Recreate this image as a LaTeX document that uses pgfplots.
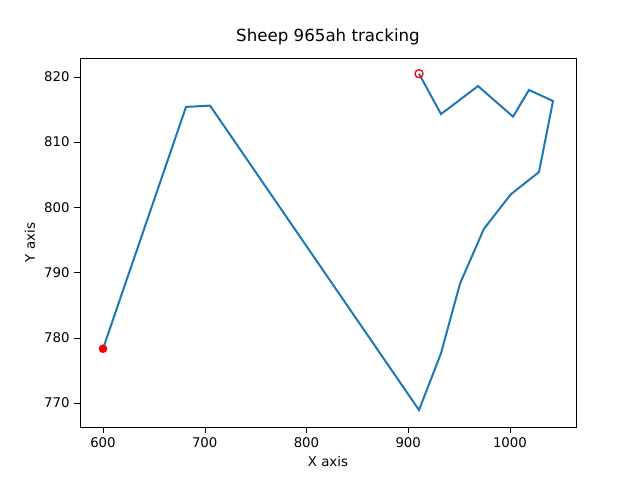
\documentclass[border=0pt]{standalone}
\usepackage{pgfplots}
\pgfplotsset{compat=1.18}
\usepackage{fontspec}
\setmainfont{DejaVu Sans}
\begin{document}
\begin{tikzpicture}
\useasboundingbox (0,0) rectangle (480pt,360pt);
\begin{axis}[at={(60pt,39.75pt)},anchor=south west,scale only axis,width=372pt,height=276.75pt,
xmin=577.4,xmax=1064.9,ymin=766.3,ymax=822.9,
xtick={600,700,...,1000},ytick={770,780,...,820},
xtick pos=left,ytick pos=left,
tick align=outside,tick style={black},
ticklabel style={font=\fontsize{10}{12}\selectfont},
/pgf/number format/assume math mode=true,
/pgf/number format/1000 sep={},
xlabel={X axis},ylabel={Y axis},
label style={font=\fontsize{10}{12}\selectfont},
title={Sheep 965ah tracking},title style={font=\fontsize{12.5}{14}\selectfont}]
\addplot[color={rgb,255:red,31;green,119;blue,180},line width=1.5pt] coordinates {
(600,778.3)(681.6,815.4)(705.2,815.6)(910.6,768.9)(932.2,777.6)(950.9,788.3)(974.4,796.7)(1000.9,802.0)(1028.5,805.4)(1042.3,816.3)(1018.7,818.0)(1003.0,813.9)(968.6,818.6)(932.2,814.3)(910.6,820.5)};
\addplot[only marks,mark=*,red,mark size=3pt] coordinates {(600,778.3)};
\addplot[only marks,mark=o,red,mark size=3pt,mark options={line width=1pt}] coordinates {(910.6,820.5)};
\end{axis}
\end{tikzpicture}
\end{document}
